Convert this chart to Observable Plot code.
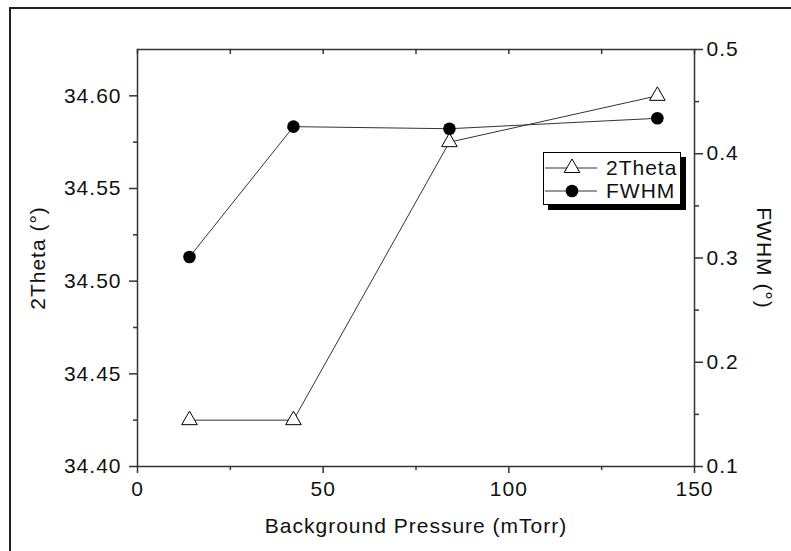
<!DOCTYPE html>
<html><head><meta charset="utf-8">
<script src="https://cdn.jsdelivr.net/npm/d3@7"></script>
<script src="https://cdn.jsdelivr.net/npm/@observablehq/plot@0.6"></script>
<style>
body{margin:0;background:#fff;font-family:"Liberation Sans",Arial,sans-serif;}
#wrap{position:relative;width:791px;height:551px;overflow:hidden;background:#fff;}
#border{position:absolute;left:9px;top:7px;width:900px;height:700px;border:2px solid #222;box-sizing:border-box;}
#chart{position:absolute;left:0;top:0;}
#chart svg text{letter-spacing:1px;}
#legend{position:absolute;left:543px;top:152px;width:138px;height:53px;border:1px solid #000;background:#fff;box-shadow:5px 5px 0 #000;box-sizing:border-box;padding-top:3px;}
.row{display:flex;align-items:center;height:23px;font-size:21px;letter-spacing:1px;color:#111;}
.row svg{display:block;margin-right:7px;}
</style>
</head><body>
<div id="wrap"><div id="border"></div><div id="chart"></div><div id="legend"></div></div>
<script>
const pressure = [14, 42, 84, 140];
const twoTheta = [34.425, 34.425, 34.575, 34.600];
const fwhm = [0.301, 0.426, 0.424, 0.434];
const seriesNames = ["2Theta", "FWHM"];
const xTicks = [0, 50, 100, 150];
const xMinor = [25, 75, 125];
const leftTicks = [34.40, 34.45, 34.50, 34.55, 34.60];
const leftMinor = [34.425, 34.475, 34.525, 34.575];
const rightTicks = [0.1, 0.2, 0.3, 0.4, 0.5];
const rightMinor = [0.15, 0.25, 0.35, 0.45];
const leftDomain = [34.40, 34.625];
const rightDomain = [0.1, 0.5];
const xLabel = "Background Pressure (mTorr)";
const leftLabel = "2Theta (°)";
const rightLabel = "FWHM (°)";

const toLeft = f => leftDomain[0] + (f - rightDomain[0]) / (rightDomain[1] - rightDomain[0]) * (leftDomain[1] - leftDomain[0]);
const fromLeft = v => rightDomain[0] + (v - leftDomain[0]) / (leftDomain[1] - leftDomain[0]) * (rightDomain[1] - rightDomain[0]);

const tt = pressure.map((p, i) => ({p, y: twoTheta[i]}));
const fw = pressure.map((p, i) => ({p, y: toLeft(fwhm[i])}));

const tickDown = {draw(ctx, l) { ctx.moveTo(0, 0); ctx.lineTo(0, l); }};
const noText = () => "";

const chart = Plot.plot({
  width: 791, height: 551,
  marginLeft: 137, marginRight: 97, marginTop: 49, marginBottom: 85,
  style: {fontFamily: "'Liberation Sans', Arial, sans-serif", fontSize: "21px", color: "#111", background: "transparent", overflow: "visible"},
  x: {domain: [0, 150]},
  y: {domain: leftDomain},
  marks: [
    Plot.line(tt, {x: "p", y: "y", stroke: "#333", strokeWidth: 1}),
    Plot.dot(tt, {x: "p", y: "y", symbol: "triangle", r: 5.8, fill: "white", stroke: "#000", strokeWidth: 1}),
    Plot.line(fw, {x: "p", y: "y", stroke: "#333", strokeWidth: 1}),
    Plot.dot(fw, {x: "p", y: "y", symbol: "circle", r: 6.3, fill: "#000", stroke: "none"}),
    Plot.frame({stroke: "#333", strokeWidth: 1.5}),
    Plot.axisX(xTicks, {anchor: "bottom", tickSize: 7, tickPadding: 8, label: null, stroke: "#333", strokeWidth: 1.5, fontSize: 21, tickFormat: d => String(d)}),
    Plot.axisX(xMinor, {anchor: "bottom", tickSize: 4, label: null, stroke: "#333", strokeWidth: 1.5, tickFormat: noText}),
    Plot.vector(xTicks.concat(xMinor), {x: d => d, frameAnchor: "top", length: 4, anchor: "start", shape: tickDown, stroke: "#333", strokeWidth: 1.5}),
    Plot.axisY(leftTicks, {anchor: "left", tickSize: 8, tickPadding: 8, label: null, stroke: "#333", strokeWidth: 1.5, fontSize: 21, tickFormat: d => d.toFixed(2)}),
    Plot.axisY(leftMinor, {anchor: "left", tickSize: 4, label: null, stroke: "#333", strokeWidth: 1.5, tickFormat: noText}),
    Plot.axisY(rightTicks.map(toLeft), {anchor: "right", tickSize: 8, tickPadding: 4, label: null, stroke: "#333", strokeWidth: 1.5, fontSize: 21, tickFormat: v => fromLeft(v).toFixed(1)}),
    Plot.axisY(rightMinor.map(toLeft), {anchor: "right", tickSize: 4, label: null, stroke: "#333", strokeWidth: 1.5, tickFormat: noText}),
    Plot.text([xLabel], {frameAnchor: "bottom", dy: 60, textAnchor: "middle", lineAnchor: "middle", fontSize: 21, fill: "#111"}),
    Plot.text([leftLabel], {frameAnchor: "left", dx: -99, rotate: -90, textAnchor: "middle", lineAnchor: "middle", fontSize: 21, fill: "#111"}),
    Plot.text([rightLabel], {frameAnchor: "right", dx: 69, rotate: 90, textAnchor: "middle", lineAnchor: "middle", fontSize: 21, fill: "#111"})
  ]
});
document.getElementById("chart").appendChild(chart);

// legend
const legend = d3.select("#legend");
const symbols = [
  {name: seriesNames[0], type: d3.symbolTriangle, size: 106, fill: "white"},
  {name: seriesNames[1], type: d3.symbolCircle, size: Math.PI * 6.3 * 6.3, fill: "#000"}
];
symbols.forEach(s => {
  const row = legend.append("div").attr("class", "row");
  const svg = row.append("svg").attr("width", 55).attr("height", 20);
  svg.append("line").attr("x1", 1).attr("x2", 53).attr("y1", 10).attr("y2", 10).attr("stroke", "#333").attr("stroke-width", 1);
  svg.append("path").attr("d", d3.symbol(s.type, s.size)()).attr("transform", "translate(28,10)")
    .attr("fill", s.fill).attr("stroke", s.fill === "#000" ? "none" : "#000").attr("stroke-width", 1);
  row.append("span").text(s.name);
});
</script>
</body></html>
